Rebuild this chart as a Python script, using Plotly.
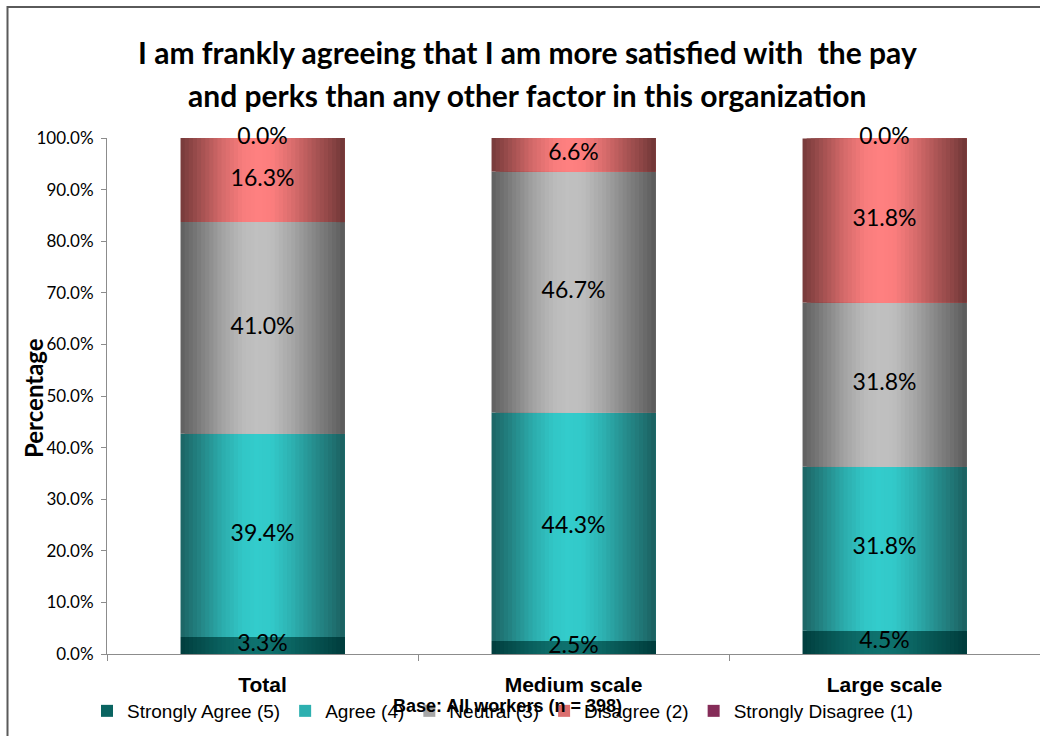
import plotly.graph_objects as go

# ---- data -------------------------------------------------------------
categories = ["Total", "Medium scale", "Large scale"]
series_names = ["Strongly Agree (5)", "Agree (4)", "Neutral (3)",
                "Disagree (2)", "Strongly Disagree (1)"]
strongly_agree = [3.3, 2.5, 4.5]
agree = [39.4, 44.3, 31.8]
neutral = [41.0, 46.7, 31.8]
disagree = [16.3, 6.6, 31.8]
strongly_disagree = [0.0, None, 0.0]
y_ticks = [0, 10, 20, 30, 40, 50, 60, 70, 80, 90, 100]

series_values = [strongly_agree, agree, neutral, disagree, strongly_disagree]

# light (centre) and dark (edge) tones for the cylinder-like shading
light = ["#0E716E", "#33CCCC", "#C0C0C0", "#FF8080", "#993366"]
dark = ["#003B3B", "#1B5E5E", "#5A5A5A", "#6E3636", "#4A1830"]

BAR_W = 0.527
N_SLICES = 40

# brightness profile across the bar (0 = edge tone, 1 = centre tone)
profile_pts = [(0.0, 0.05), (0.12, 0.35), (0.25, 0.7), (0.38, 0.95),
               (0.47, 1.0), (0.56, 0.97), (0.68, 0.75), (0.82, 0.42),
               (0.93, 0.18), (1.0, 0.0)]


def profile(t):
    for (t0, v0), (t1, v1) in zip(profile_pts, profile_pts[1:]):
        if t0 <= t <= t1:
            return v0 + (v1 - v0) * (t - t0) / (t1 - t0)
    return profile_pts[-1][1]


def mix(c1, c2, f):
    a = [int(c1[i:i + 2], 16) for i in (1, 3, 5)]
    b = [int(c2[i:i + 2], 16) for i in (1, 3, 5)]
    return "#%02x%02x%02x" % tuple(round(x + (y - x) * f) for x, y in zip(a, b))


fig = go.Figure()

# cumulative bases for the stacked segments
bases = []
running = [0.0] * len(categories)
for vals in series_values:
    bases.append(running[:])
    running = [r + (v or 0.0) for r, v in zip(running, vals)]

step = BAR_W / N_SLICES
for s, (name, vals) in enumerate(zip(series_names, series_values)):
    base = bases[s]
    for i in range(N_SLICES):
        t = (i + 0.5) / N_SLICES
        color = mix(dark[s], light[s], profile(t))
        fig.add_trace(go.Bar(
            x=categories,
            y=[v if v is not None else 0 for v in vals],
            base=base,
            width=BAR_W - i * step,
            offset=-BAR_W / 2 + i * step,
            marker=dict(color=color, line=dict(width=0)),
            name=name,
            legendgroup=name,
            showlegend=False,
            hoverinfo="skip",
        ))
    # legend entry for the series
    fig.add_trace(go.Bar(
        x=[None], y=[None],
        marker=dict(color=mix(dark[s], light[s], 0.75), line=dict(width=0)),
        name=name, legendgroup=name, showlegend=True,
    ))

# value labels in the middle of each segment
for s, vals in enumerate(series_values):
    xs, ys, txt = [], [], []
    for c, v, b in zip(categories, vals, bases[s]):
        if v is None:
            continue
        xs.append(c)
        ys.append(b + v / 2)
        txt.append(f"{v:.1f}%")
    fig.add_trace(go.Scatter(
        x=xs, y=ys, text=txt, mode="text",
        textfont=dict(family="Lato", size=23, color="#000000"),
        showlegend=False, hoverinfo="skip", cliponaxis=False,
    ))

PLOT_L, PLOT_T, PLOT_B = 107, 138, 654
plot_h = PLOT_B - PLOT_T
plot_w = 1040 - PLOT_L


def px_x(x):
    return (x - PLOT_L) / plot_w


def px_y(y):
    return (PLOT_B - y) / plot_h


fig.update_layout(
    width=1040, height=736,
    margin=dict(l=PLOT_L, r=0, t=PLOT_T, b=736 - PLOT_B, pad=0),
    paper_bgcolor="white", plot_bgcolor="white",
    barmode="overlay",
    showlegend=True,
    legend=dict(
        orientation="h", x=px_x(87), xanchor="left",
        y=px_y(711), yanchor="middle",
        font=dict(family="Liberation Sans", size=19, color="#000000"),
        bgcolor="rgba(0,0,0,0)", itemwidth=30,
        traceorder="normal",
    ),
    xaxis=dict(
        type="category", categoryorder="array", categoryarray=categories,
        range=[-0.5, 2.5], showline=True, linecolor="#8C8C8C", linewidth=1,
        ticks="outside", tickson="boundaries", ticklen=6, tickcolor="#8C8C8C",
        tickfont=dict(family="Liberation Sans", size=21, color="#000000", weight="bold"),
        ticklabelstandoff=12,
        showgrid=False, zeroline=False, fixedrange=True,
    ),
    yaxis=dict(
        range=[0, 100], tickvals=y_ticks,
        ticktext=[f"{v:.1f}%" for v in y_ticks],
        showline=True, linecolor="#8C8C8C", linewidth=1,
        ticks="outside", ticklen=5, tickcolor="#8C8C8C",
        tickfont=dict(family="Lato", size=17, color="#000000"),
        ticklabelstandoff=4,
        showgrid=False, zeroline=False, fixedrange=True,
    ),
    annotations=[
        dict(text="I am frankly agreeing that I am more satisfied with  the pay",
             xref="paper", yref="paper", x=px_x(527), y=px_y(52),
             xanchor="center", yanchor="middle", showarrow=False,
             font=dict(family="Lato", size=30, color="#000000", weight="bold")),
        dict(text="and perks than any other factor in this organization",
             xref="paper", yref="paper", x=px_x(527), y=px_y(95),
             xanchor="center", yanchor="middle", showarrow=False,
             font=dict(family="Lato", size=30, color="#000000", weight="bold")),
        dict(text="Percentage", textangle=-90,
             xref="paper", yref="paper", x=px_x(33), y=px_y(398),
             xanchor="center", yanchor="middle", showarrow=False,
             font=dict(family="Lato", size=24, color="#000000", weight="bold")),
        dict(text="Base: All workers (n = 398)",
             xref="paper", yref="paper", x=px_x(507), y=px_y(706),
             xanchor="center", yanchor="middle", showarrow=False,
             font=dict(family="Liberation Sans", size=18, color="#000000", weight="bold")),
    ],
    shapes=[
        dict(type="rect", xref="paper", yref="paper",
             x0=px_x(7.5), x1=px_x(1060), y0=px_y(760), y1=px_y(7),
             line=dict(color="#5A5A5A", width=2), fillcolor="rgba(0,0,0,0)",
             layer="above"),
    ],
)

fig.write_html("out.html")
